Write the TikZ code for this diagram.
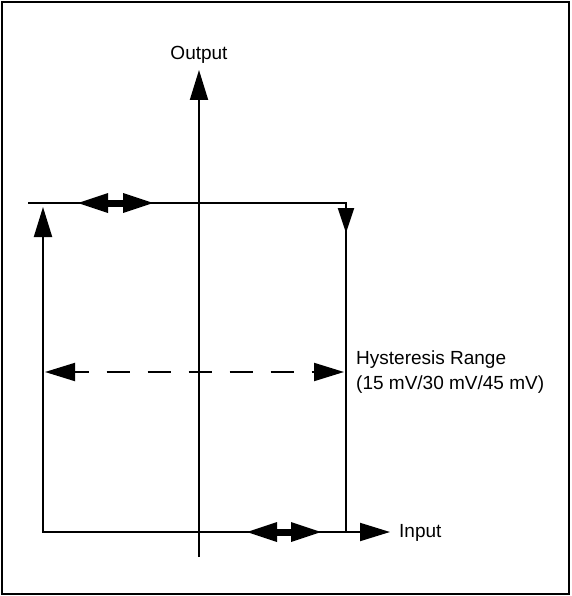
\documentclass[tikz,border=0pt]{standalone}
\usepackage{fontspec}
\setmainfont{Liberation Sans}
\usetikzlibrary{arrows.meta,positioning,decorations.markings}
\tikzset{
    ln/.style={line width=2pt},
    arr/.style={-{Triangle[length=30pt,width=18pt]}, line width=2pt},
    arrs/.style={{Triangle[length=30pt,width=18pt]}-{Triangle[length=30pt,width=18pt]}, line width=2pt},
    dblarr/.style={{Triangle[length=30pt,width=20pt,line width=0pt]}-{Triangle[length=30pt,width=20pt,line width=0pt]}, line width=7pt},
    dasharr/.style={arrs, dash pattern=on 23pt off 18pt, dash phase=9pt},
    lbl/.style={font=\fontsize{19}{25}\selectfont, inner sep=0pt, align=left},
}

\begin{document}
\begin{tikzpicture}[x=1pt,y=-1pt]
    \useasboundingbox (0,0) rectangle (571,596);
    \draw[line width=1.5pt] (2,2) rectangle (569,594);

    % axes
    \coordinate (ybot) at (199,557);
    \coordinate (ytop) at (199,70);
    \draw[arr] (ybot) -- (ytop);
    \node[lbl, anchor=base] (out) at (199,60) {Output};

    % lower branch: up the left side, out along the input axis
    \coordinate (lup) at (43,207);
    \coordinate (xend) at (390,532);
    \draw[arrs] (lup) |- (xend);
    \node[lbl, anchor=base west] (inp) at ([xshift=9pt,yshift=-5pt]xend) {Input};

    % upper branch: along the top, down the right side
    \coordinate (tstart) at (28,203);
    \coordinate (rbot) at (346,532);
    \draw[ln, postaction={decorate}, decoration={markings,
          mark=at position 348pt with {\arrow{Triangle[length=25pt,width=16pt]}}}]
        (tstart) -| (rbot);

    % small double arrows
    \coordinate (ta) at (78,203);
    \coordinate (tb) at (153,203);
    \draw[dblarr] (ta) -- (tb);
    \coordinate (ba) at (247,532);
    \coordinate (bb) at (321,532);
    \draw[dblarr] (ba) -- (bb);

    % hysteresis range
    \coordinate (hl) at (45,372);
    \coordinate (hr) at (344,372);
    \draw[dasharr] (hl) -- (hr);
    \node[lbl, anchor=west] (hyst) at (356,372) {Hysteresis Range\\(15 mV/30 mV/45 mV)};
\end{tikzpicture}
\end{document}
